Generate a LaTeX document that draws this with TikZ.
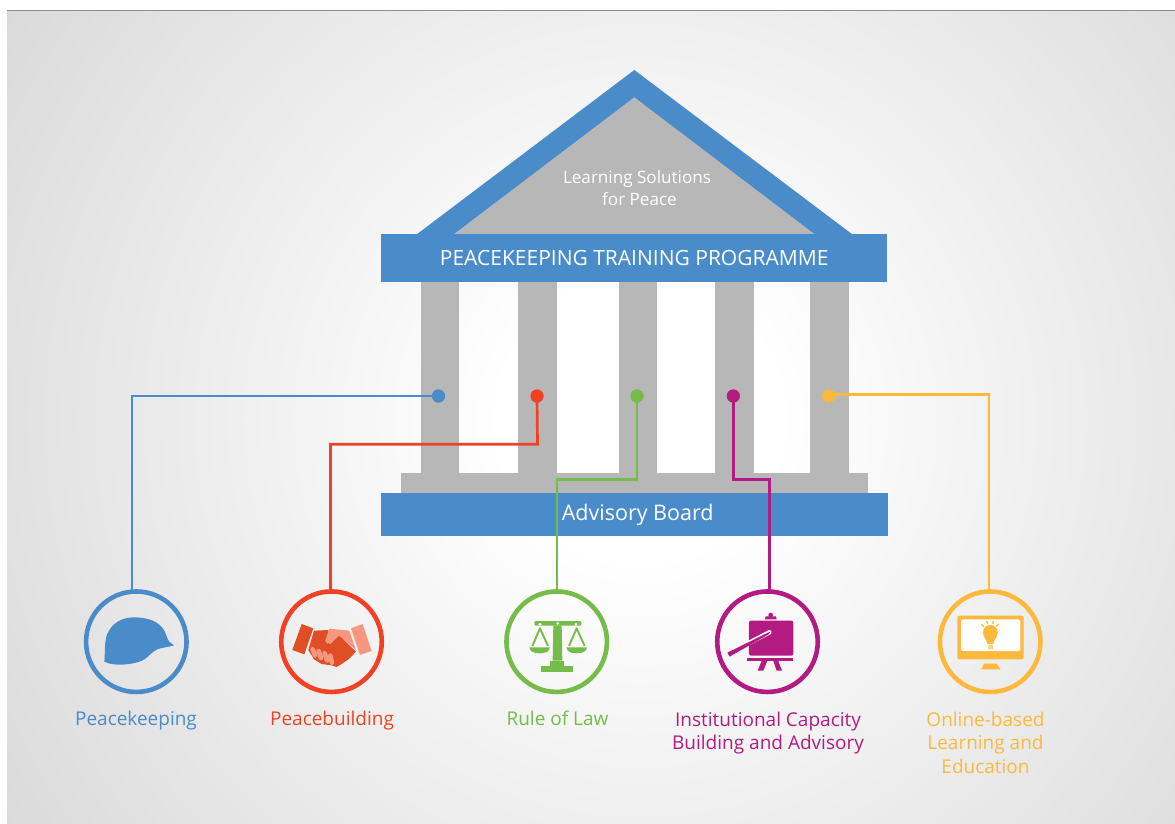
\documentclass[tikz,border=0pt]{standalone}
\usepackage{fontspec}
\setmainfont{Open Sans}
\definecolor{cblue}{HTML}{4A8BCA}
\definecolor{cred}{HTML}{F04124}
\definecolor{cdark}{HTML}{E04E26}
\definecolor{clight}{HTML}{F9967F}
\definecolor{cgreen}{HTML}{76BC4A}
\definecolor{cpurple}{HTML}{B31B83}
\definecolor{cyellow}{HTML}{FDB93C}
\definecolor{cgrey}{HTML}{B7B7B7}
\definecolor{bgout}{HTML}{D9D9D9}
\pgfdeclareradialshading{bgshade}{\pgfpoint{0bp}{0bp}}{color(0bp)=(white); color(4.5bp)=(white); color(25bp)=(bgout); color(50bp)=(bgout)}
\tikzset{
  x=1pt,y=-1pt,
  bar/.style={fill=cblue,draw=none,inner sep=0pt,text=white,anchor=center},
  ring/.style={circle,draw=#1,line width=4.6pt,fill=none,minimum size=100.5pt,inner sep=0pt},
  pin/.style={circle,fill=#1,draw=none,minimum size=13pt,inner sep=0pt},
  wire/.style={draw=#1,line width=2.7pt},
  lab/.style={text=#1,font=\fontsize{19}{23.5}\selectfont,align=center,inner sep=0pt},
  icon/.style={shift={(#1,570)},x=0.3333pt,y=-0.3333pt},
}
\begin{document}
\begin{tikzpicture}
\useasboundingbox (0,0) rectangle (1175,823);
\fill[white] (0,0) rectangle (1175,823);
\begin{scope}
  \clip (7,11) rectangle (1175,823);
  \shade[shading=bgshade] (640,420) circle (770);
\end{scope}
\draw[color=black!45,line width=1pt] (7,10.5) -- (1175,10.5);

% roof
\fill[cblue] (634.3,70) -- (852.5,234.5) -- (416.5,234.5) -- cycle;
\fill[cgrey] (634.3,97.3) -- (815,234.5) -- (453.5,234.5) -- cycle;
% columns and plinth
\fill[cgrey] (420.5,282) rectangle (459,474);
\fill[cgrey] (518,282) rectangle (557,474);
\fill[cgrey] (618.5,282) rectangle (657,474);
\fill[cgrey] (715,282) rectangle (754,474);
\fill[cgrey] (810,282) rectangle (848.7,474);
\fill[cgrey] (401,473.3) rectangle (868,494);

\node[text=white,font=\fontsize{17.1}{21.5}\selectfont,align=center,inner sep=0pt] (roofText) at (637,188) {Learning Solutions\\\hspace*{5pt}for Peace};
\node[bar,minimum width=506.5pt,minimum height=48.3pt,font=\fontsize{21}{24}\selectfont] (topBar) at (634.2,258.2) {PEACEKEEPING TRAINING PROGRAMME};
\node[bar,minimum width=506.5pt,minimum height=43pt,font=\fontsize{21.5}{24}\selectfont] (baseBar) at (634.7,514.6) {\hspace*{6pt}Advisory Board};

% rings
\node[ring=cblue] (ringA) at (136.3,641.7) {};
\node[ring=cred] (ringB) at (331.5,641.7) {};
\node[ring=cgreen] (ringC) at (556.7,641.7) {};
\node[ring=cpurple] (ringD) at (767.5,641.7) {};
\node[ring=cyellow] (ringE) at (990.2,641.7) {};

% pins
\node[pin=cblue] (pinA) at (438.5,396) {};
\node[pin=cred] (pinB) at (537,396) {};
\node[pin=cgreen] (pinC) at (637,396) {};
\node[pin=cpurple] (pinD) at (733.3,396) {};
\node[pin=cyellow] (pinE) at (828.8,396) {};

% connector bends
\coordinate (bendA) at (132,396);   \coordinate (endA) at (132,590);
\coordinate (bendB1) at (537.5,444.3); \coordinate (bendB2) at (330.5,444.3); \coordinate (endB) at (330.5,590);
\coordinate (bendC1) at (637,479.3); \coordinate (bendC2) at (557,479.3); \coordinate (endC) at (557,590);
\coordinate (bendD1) at (733.3,479.3); \coordinate (bendD2) at (769.7,479.3); \coordinate (endD) at (769.7,590);
\coordinate (bendE1) at (989,394.7); \coordinate (startE) at (828.8,394.7); \coordinate (endE) at (989,590);

\draw[wire=cblue] (pinA.center) -- (bendA) -- (endA);
\draw[wire=cred] (pinB.center) -- (bendB1) -- (bendB2) -- (endB);
\draw[wire=cgreen] (pinC.center) -- (bendC1) -- (bendC2) -- (endC);
\draw[wire=cpurple] (pinD.center) -- (bendD1) -- (bendD2) -- (endD);
\draw[wire=cyellow] (startE) -- (bendE1) -- (endE);
% pins again above connectors
\fill[cblue] (pinA) circle (6.5);
\fill[cred] (pinB) circle (6.5);
\fill[cgreen] (pinC) circle (6.5);
\fill[cpurple] (pinD) circle (6.5);
\fill[cyellow] (pinE) circle (6.5);

% helmet
\begin{scope}[icon=60]
\fill[cblue] (133,275) .. controls (136,250) and (132,215) .. (142,192)
  .. controls (155,160) and (185,142) .. (222,142)
  .. controls (265,142) and (298,155) .. (313,182)
  .. controls (320,196) and (322,208) .. (328,215)
  -- (342,226)
  .. controls (325,232) and (305,232) .. (292,238)
  .. controls (275,246) and (268,258) .. (255,267)
  .. controls (235,282) and (165,292) .. (133,275) -- cycle;
% handshake
\fill[cdark] (725,162) -- (760,175) -- (733,253) -- (697,240) -- cycle;
\fill[clight] (873,175) -- (908,162) -- (935,243) -- (900,255) -- cycle;
\fill[cdark] (762,182) -- (806,180) -- (800,222) -- (838,196) -- (888,245) -- (868,266) -- (845,282) -- (830,291) -- (815,286) -- (785,282) -- (762,268) -- (745,240) -- cycle;
\fill[clight] (808,176) -- (868,182) -- (888,240) -- (838,196) -- (812,222) -- (795,214) -- cycle;
\draw[clight,line width=4.7pt,line cap=round] (758,238) -- (765,256);
\draw[clight,line width=4.7pt,line cap=round] (776,243) -- (783,264);
\draw[clight,line width=4.7pt,line cap=round] (794,250) -- (801,271);
\draw[clight,line width=4.7pt,line cap=round] (811,257) -- (816,278);
\end{scope}

% scales
\begin{scope}[icon=490]
\fill[cgreen,rounded corners=1.2pt] (133,153) rectangle (274,167);
\fill[cgreen] (190,167) -- (215,167) -- (217,272) -- (188,272) -- cycle;
\fill[cgreen] (180,272) rectangle (223,290);
\fill[cgreen] (153,288) rectangle (250,306);
\draw[cgreen,line width=1.9pt,line join=round] (127,228) -- (150,175) -- (174,228);
\draw[cgreen,line width=1.9pt,line join=round] (237,228) -- (260,175) -- (284,228);
\fill[cgreen] (118,232) -- (180,232) .. controls (178,246) and (165,250) .. (149,250) .. controls (133,250) and (120,246) .. (118,232) -- cycle;
\fill[cgreen] (229,232) -- (291,232) .. controls (289,246) and (276,250) .. (260,250) .. controls (244,250) and (231,246) .. (229,232) -- cycle;
\fill[white] (150,163) circle (4.5);
\fill[white] (203,160) circle (4.5);
\fill[white] (258,163) circle (4.5);
\end{scope}

% easel
\begin{scope}[icon=490]
\fill[cpurple,rounded corners=2pt] (777,152) rectangle (910,257);
\fill[cpurple] (825,148) -- (827,139) -- (858,139) -- (860,148) -- cycle;
\fill[cpurple] (842,135) circle (7);
\fill[cpurple] (772,264) rectangle (910,273);
\fill[cpurple] (815,273) -- (832,273) -- (820,302) -- (803,302) -- cycle;
\fill[cpurple] (850,273) -- (865,273) -- (876,302) -- (860,302) -- cycle;
\draw[white,line width=4.5pt,line cap=round] (838,187) -- (776,219);
\fill[cpurple] (841,184.5) -- (836,193) -- (719,260) -- (712,248) -- cycle;
\end{scope}

% monitor
\begin{scope}[icon=900]
\fill[cyellow,rounded corners=2pt] (172,137) rectangle (371,268);
\fill[white,rounded corners=1.5pt] (183,148) rectangle (361,243);
\fill[cyellow] (252,281) -- (290,281) -- (302,298) -- (244,298) -- cycle;
\fill[cyellow] (249,187) .. controls (249,172) and (260,165) .. (271,165) .. controls (282,165) and (293,172) .. (293,187)
  .. controls (293,202) and (282,208) .. (280,222) -- (262,222) .. controls (260,208) and (249,202) .. (249,187) -- cycle;
\fill[cyellow!65] (263,225) rectangle (279,237);
\draw[cyellow,line width=1.3pt,line cap=round] (245,164) -- (251,169);
\draw[cyellow,line width=1.3pt,line cap=round] (260,154) -- (263,161);
\draw[cyellow,line width=1.3pt,line cap=round] (280,154) -- (278,161);
\draw[cyellow,line width=1.3pt,line cap=round] (296,162) -- (289,168);
\end{scope}

% labels
\node[lab=cblue,anchor=base] (labA) at (136,725) {Peacekeeping};
\node[lab=cred,anchor=base] (labB) at (332,725) {Peacebuilding};
\node[lab=cgreen,anchor=base] (labC) at (557.5,725) {Rule of Law};
\node[lab=cpurple,anchor=north] (labD) at (768,711.5) {Institutional Capacity\\Building and Advisory};
\node[lab=cyellow,anchor=north] (labE) at (985.5,711.5) {Online-based\\Learning and\\Education};
\end{tikzpicture}
\end{document}
